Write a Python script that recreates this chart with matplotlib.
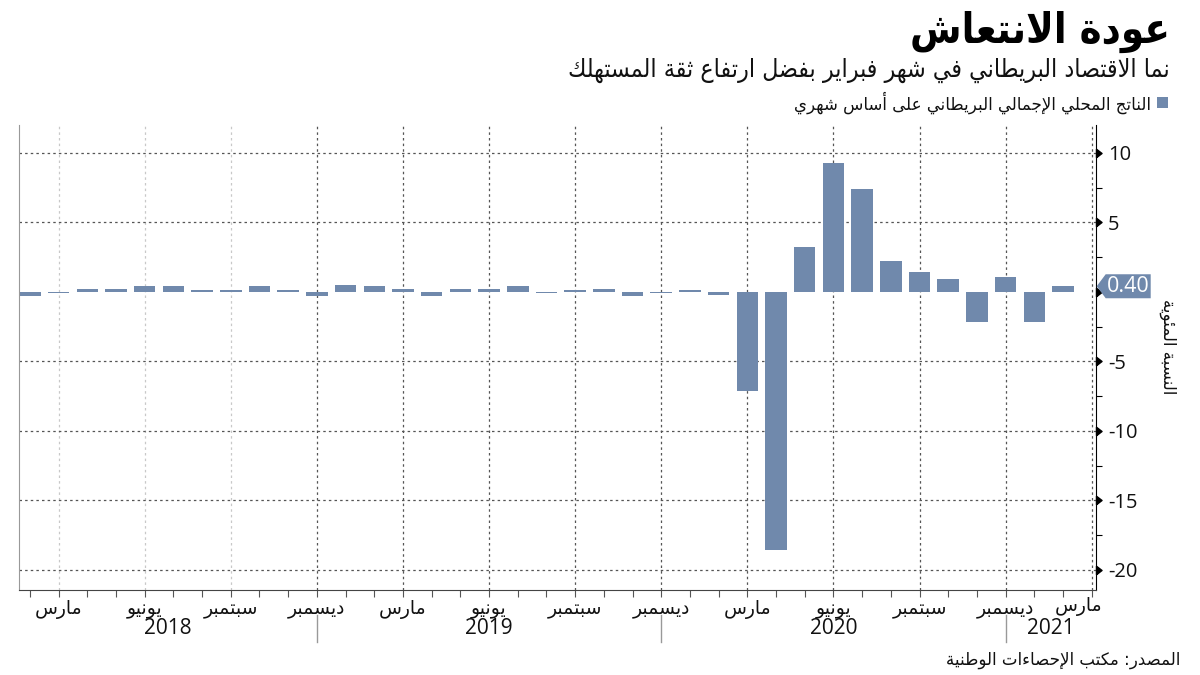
import matplotlib
matplotlib.use("Agg")
import matplotlib.pyplot as plt
import numpy as np
import pandas as pd
from matplotlib.patches import Polygon, Rectangle
from matplotlib.transforms import IdentityTransform

# --- data (UK GDP, month-on-month %) ---
start_month = "2018-02"
end_month = "2021-02"
gdp_2018 = [-0.3, -0.1, 0.2, 0.2, 0.4, 0.4, 0.1, 0.1, 0.4, 0.1, -0.3]
gdp_2019 = [0.5, 0.4, 0.2, -0.3, 0.2, 0.2, 0.4, -0.1, 0.1, 0.2, -0.3, -0.1]
gdp_2020 = [0.1, -0.2, -7.1, -18.6, 3.2, 9.3, 7.4, 2.2, 1.4, 0.9, -2.2, 1.1]
gdp_2021 = [-2.2, 0.4]
last_value_label = "0.40"

month_names = {3: "مارس", 6: "يونيو", 9: "سبتمبر", 12: "ديسمبر"}
years = [2018, 2019, 2020, 2021]
y_ticks = [-20, -15, -10, -5, 0, 5, 10]

title = "عودة الانتعاش"
subtitle = "نما الاقتصاد البريطاني في شهر فبراير بفضل ارتفاع ثقة المستهلك"
legend_label = "الناتج المحلي الإجمالي البريطاني على أساس شهري"
y_label = "النسبة المئوية"
source = "المصدر: مكتب الإحصاءات الوطنية"

BAR = "#7089ac"

# --- minimal Arabic shaping (matplotlib has no complex text layout) ---
FOUR = {"ئ": 0xFE89, "ب": 0xFE8F, "ت": 0xFE95, "ث": 0xFE99, "ج": 0xFE9D,
        "ح": 0xFEA1, "خ": 0xFEA5, "س": 0xFEB1, "ش": 0xFEB5, "ص": 0xFEB9,
        "ض": 0xFEBD, "ط": 0xFEC1, "ظ": 0xFEC5, "ع": 0xFEC9, "غ": 0xFECD,
        "ف": 0xFED1, "ق": 0xFED5, "ك": 0xFED9, "ل": 0xFEDD, "م": 0xFEE1,
        "ن": 0xFEE5, "ه": 0xFEE9, "ي": 0xFEF1}
TWO = {"آ": 0xFE81, "أ": 0xFE83, "ؤ": 0xFE85, "إ": 0xFE87, "ا": 0xFE8D,
       "ة": 0xFE93, "د": 0xFEA9, "ذ": 0xFEAB, "ر": 0xFEAD, "ز": 0xFEAF,
       "و": 0xFEED, "ى": 0xFEEF}
ONE = {"ء": 0xFE80}
LAM_ALEF = {"آ": 0xFEF5, "أ": 0xFEF7, "إ": 0xFEF9, "ا": 0xFEFB}


def ar(text):
    out = []
    i, n = 0, len(text)
    while i < n:
        c = text[i]
        prev = text[i - 1] if i > 0 else ""
        nxt = text[i + 1] if i + 1 < n else ""
        join_prev = prev in FOUR
        if c == "ل" and nxt in LAM_ALEF:
            out.append(chr(LAM_ALEF[nxt] + (1 if join_prev else 0)))
            i += 2
            continue
        if c in FOUR:
            join_next = nxt in FOUR or nxt in TWO
            form = {(False, False): 0, (True, False): 1,
                    (False, True): 2, (True, True): 3}[(join_prev, join_next)]
            out.append(chr(FOUR[c] + form))
        elif c in TWO:
            out.append(chr(TWO[c] + (1 if join_prev else 0)))
        elif c in ONE:
            out.append(chr(ONE[c]))
        else:
            out.append(c)
        i += 1
    return "".join(reversed(out))


plt.rcParams["font.family"] = ["DejaVu Sans"]
NUM_FONT = ["Open Sans", "DejaVu Sans"]

values = np.array(gdp_2018 + gdp_2019 + gdp_2020 + gdp_2021)
months = pd.period_range(start_month, end_month, freq="M")
x = np.array([(p.year - 2018) * 12 + p.month - 1 for p in months])

W, H = 1200, 675
fig = plt.figure(figsize=(12, 6.75), dpi=100)
ax = fig.add_axes([19 / W, 1 - 590 / H, (1095.7 - 19) / W, (590 - 125) / H])

ax.bar(x, values, width=0.75, color=BAR, zorder=2)
ax.set_xlim(0.62, 38.14)
ax.set_ylim(-21.45, 12)

# spines
ax.spines["top"].set_visible(False)
ax.spines["left"].set_color("#999999")
ax.spines["bottom"].set_color("#444444")
ax.spines["right"].set_color("black")

# x ticks: every month, labels on quarter months
tick_pos = np.arange(1, 39)
labels = [ar(month_names.get(t % 12 + 1, "")) for t in tick_pos]
last_label = labels[-1]
labels[-1] = ""  # last one is pulled inside the frame below
ax.set_xticks(tick_pos)
ax.set_xticklabels(labels)
ax.tick_params(axis="x", length=5, width=0.8, color="#555555", pad=2,
               labelsize=13.5, labelcolor="#111111")
ax.text(tick_pos[-1] - 0.45, -7 / 465, last_label, ha="center", va="top",
        fontsize=13.5, color="#111111", transform=ax.get_xaxis_transform())

# vertical dotted grid at labelled months
for t in tick_pos:
    if (t % 12 + 1) in month_names:
        col = "#c8c8c8" if t < 11 else "#555555"
        ax.axvline(t, color=col, lw=0.9, ls=(0, (2, 2.5)), zorder=0)

# horizontal dotted grid
for yv in y_ticks:
    if yv != 0:
        ax.axhline(yv, color="#555555", lw=0.9, ls=(0, (2, 2.5)), zorder=0)

# y axis on the right
ax.yaxis.tick_right()
ax.set_yticks(y_ticks)
ax.set_yticklabels(["" if v == 0 else str(v) for v in y_ticks],
                   fontfamily=NUM_FONT)
ax.yaxis.set_minor_locator(matplotlib.ticker.MultipleLocator(2.5))
ax.tick_params(axis="y", which="major", length=0, pad=9, labelsize=14.5,
               labelcolor="#111111")
ax.tick_params(axis="y", which="minor", length=4, width=0.8, color="black")
ax.tick_params(axis="y", which="both", left=False, labelleft=False)
tri = [(0, -1), (1.3, 0), (0, 1), (0, -1)]
ax.plot(np.ones(len(y_ticks)), y_ticks, ls="none", marker=tri, ms=8,
        color="black", transform=ax.get_yaxis_transform(), clip_on=False,
        zorder=5)

# year separators and year labels
sep = [11, 23, 35]
bounds = [ax.get_xlim()[0]] + sep + [ax.get_xlim()[1]]
for s in sep:
    ax.plot([s, s], [-25 / 465, -52 / 465], color="#999999", lw=1,
            transform=ax.get_xaxis_transform(), clip_on=False)
for yr, a, b in zip(years, bounds[:-1], bounds[1:]):
    ax.text((a + b) / 2, -38 / 465, str(yr), ha="center", va="center",
            fontsize=15, fontfamily=NUM_FONT, color="#111111",
            transform=ax.get_xaxis_transform())

# callout for the latest value
x0 = 1096.7
y0 = ax.transData.transform((0, values[-1]))[1]
pts = [(x0, y0), (x0 + 9, y0 + 12), (x0 + 54, y0 + 12),
       (x0 + 54, y0 - 12), (x0 + 9, y0 - 12)]
fig.add_artist(Polygon(pts, closed=True, facecolor=BAR, edgecolor="none",
                       transform=IdentityTransform(), zorder=6))
fig.text(x0 + 32, y0, last_value_label, color="white", fontsize=15.5,
         fontfamily=NUM_FONT, ha="center", va="center",
         transform=IdentityTransform(), zorder=7)

# y label
fig.text(1168 / W, 1 - 347 / H, ar(y_label), rotation=270, ha="center",
         va="center", fontsize=12, color="#111111")

# titles (condensed face keeps the width close to the original)
fig.text(1170 / W, 1 - 32 / H, ar(title), ha="right", va="center",
         fontsize=30, fontweight="bold", fontstretch="condensed",
         color="black")
fig.text(1170 / W, 1 - 70 / H, ar(subtitle), ha="right", va="center",
         fontsize=17.8, fontstretch="condensed", color="#111111")

# legend
fig.add_artist(Rectangle((1157 / W, 1 - 108 / H), 11 / W, 11 / H,
                         transform=fig.transFigure, facecolor=BAR,
                         edgecolor="none"))
fig.text(1151 / W, 1 - 103 / H, ar(legend_label), ha="right", va="center",
         fontsize=12, color="#111111")

# source
fig.text(1180 / W, 1 - 660 / H, ar(source), ha="right", va="center",
         fontsize=12, color="#111111")

fig.savefig("out.png", dpi=100)
